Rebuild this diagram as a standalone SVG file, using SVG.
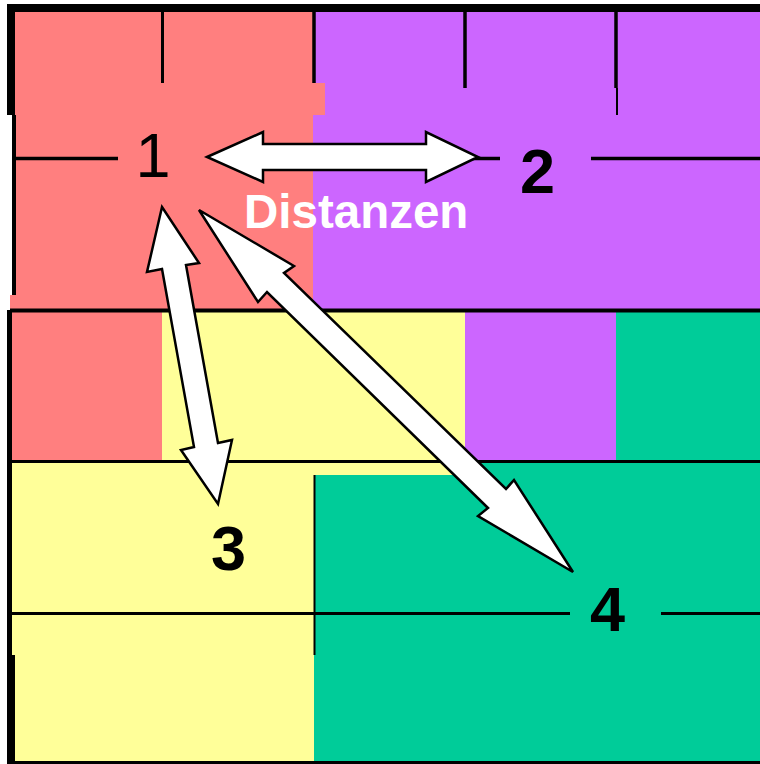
<svg xmlns="http://www.w3.org/2000/svg" width="760" height="764" viewBox="0 0 760 764">
<style>
.red{fill:#FF7F7F}
.pur{fill:#CC66FF}
.yel{fill:#FFFF99}
.grn{fill:#00CC99}
.ln{stroke:#000;fill:none}
.arrow{fill:#fff;stroke:#000;stroke-width:2.5;stroke-linejoin:miter}
.num{font-family:"Liberation Sans",Arial,sans-serif;font-size:63px;fill:#000;text-anchor:middle}
.bold{font-weight:bold}
</style>
<rect width="760" height="764" fill="#fff"/>
<g id="regions">
<rect class="pur" x="313" y="10" width="447" height="300"/>
<rect class="red" x="12" y="10" width="301" height="300"/>
<rect class="red" x="10" y="295" width="10" height="15"/>
<rect class="red" x="313" y="83" width="12" height="32"/>
<rect class="red" x="10" y="310" width="152" height="151"/>
<rect class="yel" x="162" y="310" width="303" height="151"/>
<rect class="pur" x="465" y="310" width="151" height="151"/>
<rect class="grn" x="616" y="310" width="144" height="151"/>
<rect class="yel" x="10" y="461" width="304" height="300"/>
<rect class="yel" x="314" y="461" width="151" height="14"/>
<rect class="grn" x="314" y="475" width="446" height="286"/>
<rect class="grn" x="465" y="461" width="295" height="14"/>
</g>
<g id="grid">
<line class="ln" x1="7" y1="8" x2="760" y2="8" stroke-width="8"/>
<line class="ln" x1="11" y1="4" x2="11" y2="115" stroke-width="8"/>
<line class="ln" x1="14" y1="115" x2="14" y2="295" stroke-width="4"/>
<line class="ln" x1="9.5" y1="310" x2="9.5" y2="655" stroke-width="5"/>
<line class="ln" x1="11" y1="655" x2="11" y2="762" stroke-width="8"/>
<line class="ln" x1="7" y1="762.5" x2="760" y2="762.5" stroke-width="3"/>
<line class="ln" x1="162.5" y1="10" x2="162.5" y2="83" stroke-width="3"/>
<line class="ln" x1="314" y1="10" x2="314" y2="83" stroke-width="3.5"/>
<line class="ln" x1="465" y1="10" x2="465" y2="88" stroke-width="3.5"/>
<line class="ln" x1="616" y1="10" x2="616" y2="88" stroke-width="3.5"/>
<line class="ln" x1="617" y1="88" x2="617" y2="115" stroke-width="2"/>
<line class="ln" x1="15" y1="158.5" x2="118" y2="158.5" stroke-width="3.5"/>
<line class="ln" x1="470" y1="158.5" x2="500" y2="158.5" stroke-width="3.5"/>
<line class="ln" x1="591" y1="158.5" x2="760" y2="158.5" stroke-width="3.5"/>
<line class="ln" x1="10" y1="310.5" x2="760" y2="310.5" stroke-width="4"/>
<line class="ln" x1="10" y1="461.5" x2="760" y2="461.5" stroke-width="3"/>
<line class="ln" x1="314.5" y1="475" x2="314.5" y2="655" stroke-width="2"/>
<line class="ln" x1="10" y1="613.5" x2="570" y2="613.5" stroke-width="3"/>
<line class="ln" x1="661" y1="613.5" x2="760" y2="613.5" stroke-width="3"/>
</g>
<g id="connectors">
<polygon class="arrow" points="207,157 263,132 263,144 426,144 426,132 478,157 426,182 426,170 263,170 263,182"/>
<polygon class="arrow" points="162,207 199,263 186,265 218,443 232,440 218,504 181,450 194,447 162,269 147,272"/>
<polygon class="arrow" points="199,210 294,266 284,273 506,489 514,480 573,572 478,516 488,508 267,292 258,302"/>
</g>
<g id="node1"><text class="num" x="153" y="177" font-size="61">1</text></g>
<g id="node2"><text class="num bold" x="537.5" y="193">2</text></g>
<g id="node3"><text class="num bold" x="228.5" y="570">3</text></g>
<g id="node4"><text class="num bold" x="607.5" y="631">4</text></g>
<g id="label"><text x="244" y="228" font-family="Liberation Sans,Arial,sans-serif" font-weight="bold" font-size="47.5" fill="#fff">Distanzen</text></g>
</svg>
